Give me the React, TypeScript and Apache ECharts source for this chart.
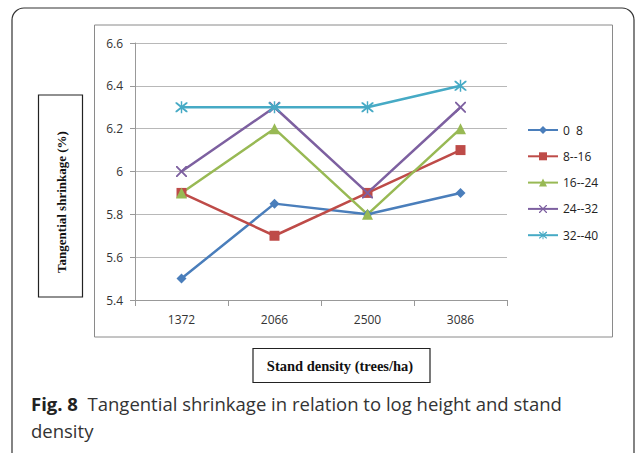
import React, { useEffect, useRef } from "react";
import * as echarts from "echarts";

const categories = ["1372", "2066", "2500", "3086"];
const seriesNames = ["0  8", "8--16", "16--24", "24--32", "32--40"];
const s0_8 = [5.5, 5.85, 5.8, 5.9];
const s8_16 = [5.9, 5.7, 5.9, 6.1];
const s16_24 = [5.9, 6.2, 5.8, 6.2];
const s24_32 = [6.0, 6.3, 5.9, 6.3];
const s32_40 = [6.3, 6.3, 6.3, 6.4];
const colors = ["#4a7ebb", "#be4b48", "#98b954", "#7d60a0", "#46aac5"];

const xPath =
  "path://M0,0 L1.2,0 L5,3.8 L8.8,0 L10,0 L10,1.2 L6.2,5 L10,8.8 L10,10 L8.8,10 L5,6.2 L1.2,10 L0,10 L0,8.8 L3.8,5 L0,1.2 Z";
const starPath =
  "path://M0,0 L1.2,0 L5,3.8 L8.8,0 L10,0 L10,1.2 L6.2,5 L10,8.8 L10,10 L8.8,10 L5,6.2 L1.2,10 L0,10 L0,8.8 L3.8,5 L0,1.2 Z M4.4,-1 L5.6,-1 L5.6,11 L4.4,11 Z";

export default function App() {
  const ref = useRef<HTMLDivElement>(null);
  useEffect(() => {
    if (!ref.current) return;
    const chart = echarts.init(ref.current, null, { renderer: "svg" });
    const data = [s0_8, s8_16, s16_24, s24_32, s32_40];
    const symbols = ["diamond", "rect", "triangle", xPath, starPath];
    const sizes = [10, 10, 11, 11, 12];
    chart.setOption({
      animation: false,
      backgroundColor: "#ffffff",
      grid: { left: 135, top: 43, right: 130, bottom: 153 },
      legend: {
        orient: "vertical",
        left: 527,
        top: 124,
        padding: 0,
        itemWidth: 30,
        itemHeight: 10,
        itemGap: 14.3,
        textStyle: { fontFamily: "Open Sans", fontSize: 12, color: "#222" },
        data: seriesNames,
      },
      xAxis: {
        type: "category",
        data: categories,
        boundaryGap: true,
        axisLine: { lineStyle: { color: "#999", width: 1 } },
        axisTick: { show: true, length: 6, lineStyle: { color: "#999" } },
        axisLabel: { color: "#333", fontFamily: "Open Sans", fontSize: 12, margin: 13 },
      },
      yAxis: {
        type: "value",
        min: 5.4,
        max: 6.6,
        interval: 0.2,
        axisLine: { show: true, lineStyle: { color: "#999", width: 1 } },
        axisTick: { show: true, length: 5, lineStyle: { color: "#999" } },
        axisLabel: { color: "#333", fontFamily: "Open Sans", fontSize: 12, margin: 12 },
        splitLine: { lineStyle: { color: "#b8b8b8", width: 1 } },
      },
      series: data.map((d, i) => ({
        name: seriesNames[i],
        type: "line",
        data: d,
        symbol: symbols[i],
        symbolSize: sizes[i],
        showSymbol: true,
        lineStyle: { color: colors[i], width: 2.5 },
        itemStyle: { color: colors[i] },
      })),
      graphic: [
        {
          type: "rect",
          shape: { x: 12, y: 8, width: 622, height: 460, r: 12 },
          style: { fill: "none", stroke: "#333", lineWidth: 1.2 },
          silent: true,
        },
        {
          type: "rect",
          shape: { x: 94.5, y: 25, width: 518, height: 312 },
          style: { fill: "none", stroke: "#8a8a8a", lineWidth: 1 },
          silent: true,
        },
        {
          type: "rect",
          shape: { x: 38.5, y: 95, width: 44, height: 202 },
          style: { fill: "#fff", stroke: "#222", lineWidth: 1.2 },
          silent: true,
        },
        {
          type: "text",
          x: 61,
          y: 202,
          rotation: Math.PI / 2,
          style: {
            text: "Tangential shrinkage (%)",
            font: "bold 13px 'Liberation Serif', 'Times New Roman', serif",
            fill: "#111",
            align: "center",
            verticalAlign: "middle",
          },
        },
        {
          type: "rect",
          shape: { x: 253, y: 348.5, width: 177, height: 34 },
          style: { fill: "#fff", stroke: "#222", lineWidth: 1.2 },
          silent: true,
        },
        {
          type: "text",
          x: 340,
          y: 366,
          style: {
            text: "Stand density (trees/ha)",
            font: "bold 14.5px 'Liberation Serif', 'Times New Roman', serif",
            fill: "#111",
            align: "center",
            verticalAlign: "middle",
          },
        },
        {
          type: "text",
          x: 31,
          y: 403,
          style: {
            text: "{b|Fig. 8}  Tangential shrinkage in relation to log height and stand",
            font: "18.5px 'Open Sans', sans-serif",
            fill: "#333",
            verticalAlign: "middle",
            rich: {
              b: { font: "bold 18.5px 'Open Sans', sans-serif", fill: "#222" },
            },
          },
        },
        {
          type: "text",
          x: 31,
          y: 430,
          style: {
            text: "density",
            font: "18.5px 'Open Sans', sans-serif",
            fill: "#333",
            verticalAlign: "middle",
          },
        },
      ],
    });
    return () => chart.dispose();
  }, []);
  return (
    <div
      ref={ref}
      style={{ position: "fixed", left: 0, top: 0, width: 637, height: 453 }}
    />
  );
}
